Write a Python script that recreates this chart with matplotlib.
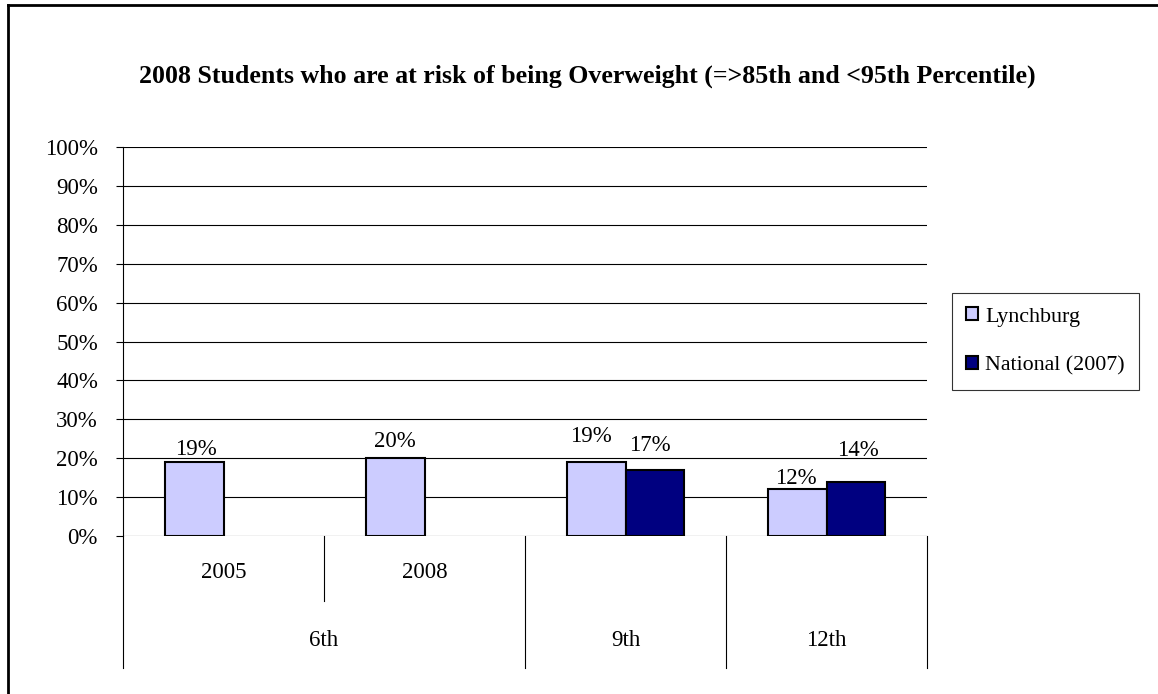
import matplotlib
matplotlib.use("Agg")
import matplotlib.pyplot as plt
import matplotlib.transforms as mtransforms
from matplotlib.lines import Line2D
from matplotlib.patches import Patch
import numpy as np

# ---- data ----
years = ["2005", "2008", "", ""]
grades = ["6th", "6th", "9th", "12th"]
lynchburg = [0.19, 0.20, 0.19, 0.12]
national = [np.nan, np.nan, 0.17, 0.14]
series_names = ["Lynchburg", "National (2007)"]
yticks = [0.0, 0.1, 0.2, 0.3, 0.4, 0.5, 0.6, 0.7, 0.8, 0.9, 1.0]
title = "2008 Students who are at risk of being Overweight (=>85th and <95th Percentile)"

# label offsets (pixels) to mimic original placement
lyn_off = [(2, 13), (0, 17), (-5, 26), (-1, 11)]
nat_off = [(0, 0), (0, 0), (-5, 24), (2, 31)]

colors = ["#CCCCFF", "#000080"]
FS = 16.5

plt.rcParams['font.family'] = ['Liberation Serif', 'DejaVu Serif']
W, H = 1158, 694
fig = plt.figure(figsize=(W / 100, H / 100), dpi=100)
ax = fig.add_axes([123 / W, 1 - 536 / H, (927 - 123) / W, (536 - 147) / H])

x = np.arange(len(years))
bw = 0.29
ax.bar(x - bw / 2, lynchburg, bw, color=colors[0], edgecolor="black", linewidth=1.5, zorder=3)
ax.bar(x + bw / 2, national, bw, color=colors[1], edgecolor="black", linewidth=1.5, zorder=3)

for xi, v, off in zip(x - bw / 2, lynchburg, lyn_off):
    if not np.isnan(v):
        ax.annotate(f"{v*100:.0f}%", (xi, v), xytext=off, textcoords="offset pixels",
                    ha="center", va="center", fontsize=FS)
for xi, v, off in zip(x + bw / 2, national, nat_off):
    if not np.isnan(v):
        ax.annotate(f"{v*100:.0f}%", (xi, v), xytext=off, textcoords="offset pixels",
                    ha="center", va="center", fontsize=FS)

ax.set_xlim(-0.5, len(years) - 0.5)
ax.set_ylim(0, 1)
ax.set_yticks(yticks)
ax.set_yticklabels([f"{t*100:.0f}%" for t in yticks], fontsize=FS)
ax.tick_params(axis="y", direction="out", length=5, width=0.8, pad=13)
ax.set_xticks([])
ax.grid(axis="y", color="black", linewidth=0.8, zorder=0)
ax.set_axisbelow(True)
for s in ["top", "right", "bottom"]:
    ax.spines[s].set_visible(False)
ax.spines["left"].set_linewidth(0.8)

# multi-level category axis
tr = mtransforms.blended_transform_factory(ax.transData, ax.transAxes)
y_short = -(601 - 536) / (536 - 147)
y_long = -(668 - 536) / (536 - 147)
y_sub = -(573 - 536) / (536 - 147)
y_grp = -(641 - 536) / (536 - 147)
n = len(years)
bounds = [-0.5 + i for i in range(n + 1)]
for i, b in enumerate(bounds):
    if 0 < i < n and grades[i - 1] == grades[i]:
        yb = y_short
    else:
        yb = y_long
    ax.add_line(Line2D([b, b], [0, yb], transform=tr, color="black", linewidth=0.8, clip_on=False))
for xi, lab in zip(x, years):
    if lab:
        ax.text(xi, y_sub, lab, transform=tr, ha="center", va="center", fontsize=FS)
i = 0
while i < n:
    j = i
    while j + 1 < n and grades[j + 1] == grades[i]:
        j += 1
    ax.text((i + j) / 2, y_grp, grades[i], transform=tr, ha="center", va="center", fontsize=FS)
    i = j + 1

# title
fig.text(587 / W, 1 - 76 / H, title, ha="center", va="center", fontsize=18.6, fontweight="bold")

# legend
handles = [Patch(facecolor=c, edgecolor="black", linewidth=1.5) for c in colors]
leg = fig.legend(handles, series_names, loc="upper left", bbox_to_anchor=(952 / W, 1 - 293 / H),
                 frameon=True, fancybox=False, shadow=False, fontsize=15.8,
                 handlelength=0.55, handleheight=0.55, handletextpad=0.3, labelspacing=1.35,
                 borderpad=0.65, borderaxespad=0)
leg.get_frame().set_edgecolor("black")
leg.get_frame().set_linewidth(0.8)

# outer frame (left & top)
fig.add_artist(Line2D([8 / W, 8 / W], [0, 1 - 5 / H], transform=fig.transFigure, color="black", linewidth=2))
fig.add_artist(Line2D([8 / W, 1], [1 - 5 / H, 1 - 5 / H], transform=fig.transFigure, color="black", linewidth=2))

fig.savefig("out.png", dpi=100)
